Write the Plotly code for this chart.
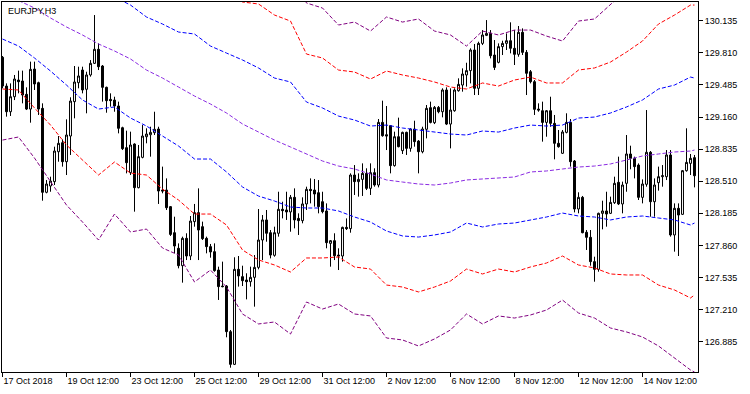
import plotly.graph_objects as go

# ---- candle data (EURJPY H3), bar index 0..173 ----
bars = list(range(174))
opens = [129.765,129.474,129.214,129.366,129.535,129.525,129.390,129.241,129.646,129.508,
 129.248,128.398,128.462,128.506,128.809,128.900,128.708,128.968,129.316,129.508,
 129.636,129.441,129.586,129.704,129.846,129.677,129.461,129.339,129.332,129.272,
 129.052,128.850,128.597,128.887,128.445,128.752,128.961,128.981,129.002,129.039,
 128.421,128.421,128.253,127.989,127.831,127.655,127.932,127.753,128.101,128.192,
 128.050,127.932,127.848,127.797,127.611,127.449,127.449,126.987,126.656,127.618,
 127.544,127.510,127.493,127.537,127.638,127.915,128.118,127.989,127.760,127.983,
 128.226,128.219,128.199,128.347,128.134,128.111,128.280,128.428,128.421,128.394,
 128.303,128.209,127.881,127.908,127.763,127.753,128.043,128.030,128.573,128.506,
 128.529,128.590,128.438,128.597,128.472,129.106,128.981,129.073,128.668,128.961,
 128.820,129.005,128.843,129.039,128.917,128.809,129.036,129.255,129.103,129.258,
 129.214,129.434,129.089,129.224,129.427,129.484,129.586,129.630,129.839,129.451,
 129.906,129.987,130.007,129.788,129.714,129.873,129.906,129.933,129.856,129.795,
 130.018,129.815,129.619,129.518,129.241,129.224,129.106,129.224,129.096,128.894,
 128.793,129.005,129.106,128.715,128.229,128.347,127.993,127.942,127.696,127.618,
 128.185,128.209,128.185,128.293,128.499,128.280,128.489,128.786,128.742,128.674,
 128.347,128.479,128.803,128.303,128.496,128.556,128.556,128.776,127.966,128.236,
 128.175,128.617,128.691,128.749]
highs = [129.778,129.501,129.501,129.586,129.630,129.630,129.461,129.721,129.721,129.518,
 129.299,128.522,128.556,128.860,128.968,128.934,129.137,129.360,129.677,129.670,
 129.670,129.619,129.737,130.193,129.906,129.687,129.468,129.400,129.366,129.316,
 129.062,129.022,129.012,128.894,128.877,129.079,129.046,129.062,129.214,129.062,
 128.658,128.539,128.259,128.151,127.881,127.949,127.983,128.158,128.280,128.438,
 128.101,127.949,127.875,127.881,127.645,127.696,127.459,127.004,127.740,127.753,
 127.655,127.578,127.645,127.763,128.229,128.168,128.219,128.016,128.050,128.404,
 128.303,128.404,128.371,128.438,128.185,128.347,128.455,128.539,128.533,128.522,
 128.404,128.286,127.915,127.983,127.831,128.050,128.134,128.590,128.674,128.590,
 128.691,128.641,128.691,128.641,129.140,129.326,129.272,129.079,129.012,129.154,
 129.012,129.012,129.046,129.123,128.927,129.062,129.282,129.316,129.272,129.272,
 129.451,129.461,129.451,129.451,129.552,129.653,129.710,129.856,129.900,129.923,
 130.041,130.142,130.041,129.940,129.906,129.933,130.007,130.119,130.041,130.082,
 130.058,129.839,129.636,129.535,129.299,129.316,129.231,129.366,129.181,129.029,
 129.029,129.198,129.140,128.725,128.398,128.361,128.016,128.016,127.746,128.192,
 128.313,128.404,128.354,128.556,128.759,128.506,128.978,128.870,128.759,128.691,
 128.529,129.231,128.816,128.539,128.658,128.674,128.826,128.826,128.286,128.286,
 128.624,129.046,128.786,128.776]
lows = [129.451,129.164,129.171,129.332,129.400,129.299,129.231,129.103,129.434,129.181,
 128.313,128.388,128.404,128.472,128.708,128.658,128.573,128.776,129.147,129.451,
 129.400,129.198,129.569,129.697,129.636,129.316,129.204,129.265,129.214,128.995,
 128.826,128.590,128.573,128.202,128.438,128.742,128.894,128.759,128.978,128.280,
 128.388,128.219,127.956,127.780,127.628,127.483,127.712,127.712,128.050,127.712,
 127.915,127.780,127.736,127.594,127.308,127.436,126.930,126.622,126.649,127.443,
 127.449,127.314,127.443,127.240,127.618,127.712,127.898,127.729,127.746,127.949,
 128.134,128.118,127.999,128.033,127.966,128.084,128.219,128.286,128.253,128.185,
 128.185,127.831,127.645,127.712,127.611,127.696,128.016,127.989,128.371,128.354,
 128.361,128.421,128.371,128.455,128.448,128.961,128.826,128.590,128.658,128.853,
 128.786,128.776,128.809,128.860,128.590,128.793,128.944,129.096,129.089,129.198,
 129.157,129.079,128.843,129.214,129.417,129.417,129.468,129.501,129.383,129.383,
 129.889,129.980,129.754,129.636,129.704,129.788,129.839,129.805,129.687,129.771,
 129.788,129.383,129.501,129.181,129.214,128.911,128.961,129.062,128.732,128.850,
 128.786,128.995,128.658,128.195,128.185,127.983,127.814,127.655,127.493,127.594,
 128.023,128.050,128.178,128.280,128.269,128.185,128.404,128.631,128.539,128.320,
 128.286,128.455,128.151,128.151,128.415,128.455,128.522,127.949,127.797,127.753,
 128.168,128.607,128.573,128.448]
closes = [129.474,129.214,129.366,129.545,129.518,129.383,129.241,129.643,129.495,129.241,
 128.398,128.482,128.512,128.816,128.894,128.708,128.978,129.322,129.515,129.576,
 129.434,129.586,129.704,129.846,129.670,129.461,129.326,129.326,129.272,129.046,
 128.840,128.698,128.877,128.445,128.759,128.968,128.988,129.005,129.036,128.411,
 128.411,128.242,127.972,127.854,127.655,127.932,127.753,128.107,128.192,128.016,
 127.929,127.848,127.794,127.605,127.443,127.443,126.987,126.656,127.618,127.551,
 127.503,127.493,127.537,127.638,127.915,128.118,127.983,127.763,127.989,128.226,
 128.212,128.199,128.347,128.118,128.111,128.280,128.428,128.415,128.381,128.253,
 128.202,127.888,127.908,127.756,127.753,128.043,128.030,128.573,128.506,128.529,
 128.590,128.438,128.597,128.472,129.106,128.971,128.968,128.668,128.961,128.860,
 129.005,128.843,129.039,128.911,128.809,129.039,129.248,129.106,129.258,129.214,
 129.434,129.089,129.231,129.434,129.491,129.596,129.630,129.839,129.451,129.906,
 129.991,130.007,129.781,129.663,129.873,129.906,129.933,129.856,129.795,130.018,
 129.815,129.603,129.518,129.238,129.231,129.106,129.224,129.096,128.894,128.860,
 129.009,129.106,128.708,128.229,128.347,127.989,127.942,127.696,127.618,128.185,
 128.209,128.178,128.296,128.489,128.280,128.472,128.786,128.742,128.658,128.347,
 128.482,128.803,128.303,128.472,128.556,128.566,128.776,127.966,128.236,128.168,
 128.617,128.701,128.742,128.566]

# ---- envelope lines, read at every 4th bar ----
line_bars = [0,4,8,12,16,20,24,28,32,36,40,44,48,52,56,60,64,68,72,76,80,84,88,92,96,
             100,104,108,112,116,120,124,128,132,136,140,144,148,152,156,160,164,168,172,173]
ma_center = [130.416,130.340,130.264,130.163,130.072,129.991,129.900,129.829,129.748,129.636,
 129.555,129.464,129.373,129.292,129.201,129.090,129.008,128.927,128.857,128.786,
 128.715,128.664,128.634,128.583,128.523,128.502,128.482,128.472,128.492,128.523,
 128.533,128.543,128.553,128.604,128.614,128.634,128.654,128.664,128.685,128.725,
 128.766,128.786,128.806,128.816,128.826]
band1_up = [130.882,130.801,130.770,130.699,130.659,130.649,130.558,130.375,130.294,130.173,
 130.102,130.021,130.001,129.879,129.808,129.738,129.657,129.555,129.515,129.312,
 129.252,129.170,129.130,129.069,129.079,129.049,129.029,129.008,128.988,128.978,
 129.019,129.008,129.049,129.079,129.069,129.079,129.150,129.160,129.201,129.262,
 129.333,129.444,129.484,129.565,129.555]
band1_dn = [129.950,129.879,129.758,129.626,129.484,129.333,129.241,129.262,129.150,129.069,
 128.968,128.867,128.735,128.735,128.604,128.452,128.360,128.310,128.249,128.239,
 128.239,128.209,128.148,128.097,128.006,127.956,127.945,127.966,127.996,128.087,
 128.047,128.077,128.087,128.118,128.148,128.188,128.158,128.148,128.118,128.148,
 128.158,128.138,128.118,128.067,128.087]
band2_up = [131.388,131.246,131.277,131.246,131.266,131.256,131.226,130.953,130.902,130.699,
 130.679,130.608,130.568,130.406,130.426,130.325,130.305,130.193,130.132,129.798,
 129.758,129.636,129.616,129.545,129.626,129.586,129.555,129.515,129.464,129.444,
 129.505,129.474,129.535,129.565,129.505,129.505,129.636,129.657,129.717,129.818,
 129.930,130.102,130.193,130.294,130.294]
band2_dn = [129.444,129.434,129.252,129.079,128.877,128.725,128.573,128.705,128.593,128.573,
 128.431,128.320,128.178,128.178,128.067,127.814,127.713,127.662,127.591,127.733,
 127.733,127.743,127.642,127.621,127.459,127.439,127.389,127.439,127.500,127.621,
 127.571,127.621,127.591,127.642,127.682,127.753,127.662,127.632,127.571,127.561,
 127.561,127.459,127.409,127.328,127.358]
band3_up = [131.904,131.722,131.783,131.823,131.874,131.884,131.884,131.479,131.499,131.246,
 131.277,131.165,131.256,130.973,130.963,131.013,130.953,130.770,130.598,130.315,
 130.264,130.092,130.122,130.031,130.173,130.122,130.153,130.031,129.991,129.879,
 130.031,129.991,130.041,130.041,129.980,129.930,130.132,130.153,130.294,130.446,
 130.649,130.851,130.902,131.034,131.034]
band3_dn = [128.927,128.958,128.745,128.502,128.269,128.097,127.915,128.178,127.996,128.026,
 127.834,127.763,127.490,127.611,127.439,127.166,127.065,127.085,126.963,127.287,
 127.216,127.267,127.166,127.146,126.923,126.903,126.842,126.913,127.004,127.166,
 127.065,127.146,127.125,127.156,127.206,127.307,127.176,127.125,127.024,126.984,
 126.933,126.842,126.720,126.599,126.578]

# ---- axis ticks ----
x_tick_bars = [0, 16, 32, 48, 64, 80, 96, 112, 128, 144, 160]
x_tick_labels = ["17 Oct 2018", "19 Oct 12:00", "23 Oct 12:00", "25 Oct 12:00", "29 Oct 12:00",
                 "31 Oct 12:00", "2 Nov 12:00", "6 Nov 12:00", "8 Nov 12:00", "12 Nov 12:00",
                 "14 Nov 12:00"]
y_ticks = [126.885, 127.210, 127.535, 127.860, 128.185, 128.510, 128.835, 129.160, 129.485,
           129.810, 130.135]
symbol_label = "EURJPY,H3"

FONT = "Liberation Sans, Arial, sans-serif"
DASH = "4px,2px"

fig = go.Figure()
fig.add_trace(go.Candlestick(
    x=bars, open=opens, high=highs, low=lows, close=closes,
    increasing=dict(line=dict(color="black", width=1), fillcolor="white"),
    decreasing=dict(line=dict(color="black", width=1), fillcolor="black"),
    whiskerwidth=0, hoverinfo="skip"))

lines = [
    (band3_up, "#800080"), (band2_up, "#FF0000"), (band1_up, "#0000FF"),
    (ma_center, "#8A2BE2"),
    (band1_dn, "#0000FF"), (band2_dn, "#FF0000"), (band3_dn, "#800080"),
]
for vals, col in lines:
    fig.add_trace(go.Scatter(x=line_bars, y=vals, mode="lines",
                             line=dict(color=col, width=1, dash=DASH),
                             hoverinfo="skip"))

fig.update_layout(
    width=750, height=394,
    margin=dict(l=2, r=52, t=2, b=22),
    paper_bgcolor="white", plot_bgcolor="white",
    showlegend=False, hovermode=False, boxgap=0.3,
    font=dict(family=FONT, size=9, color="black"),
    xaxis=dict(range=[-0.125, 173.875], tickvals=x_tick_bars, ticktext=x_tick_labels,
               ticks="outside", ticklen=4, tickcolor="black", tickwidth=1,
               ticklabelposition="outside right",
               showgrid=False, zeroline=False, showline=True, mirror=True,
               linecolor="black", linewidth=1,
               tickfont=dict(family=FONT, size=9, color="black"),
               rangeslider=dict(visible=False), fixedrange=True),
    yaxis=dict(range=[126.5785, 130.325], side="right", tickvals=y_ticks,
               ticktext=[f"{v:.3f}" for v in y_ticks],
               ticks="outside", ticklen=4, tickcolor="black", tickwidth=1,
               showgrid=False, zeroline=False, showline=True, mirror=True,
               linecolor="black", linewidth=1,
               tickfont=dict(family=FONT, size=9, color="black"), fixedrange=True),
    annotations=[dict(text=symbol_label, xref="paper", yref="paper", x=0, y=1,
                      xanchor="left", yanchor="top", xshift=4, yshift=-2,
                      showarrow=False, font=dict(family=FONT, size=9, color="black"))],
)

fig.write_html("out.html", config={"displayModeBar": False},
               post_script="document.body.style.margin='0';document.body.style.padding='0';")
